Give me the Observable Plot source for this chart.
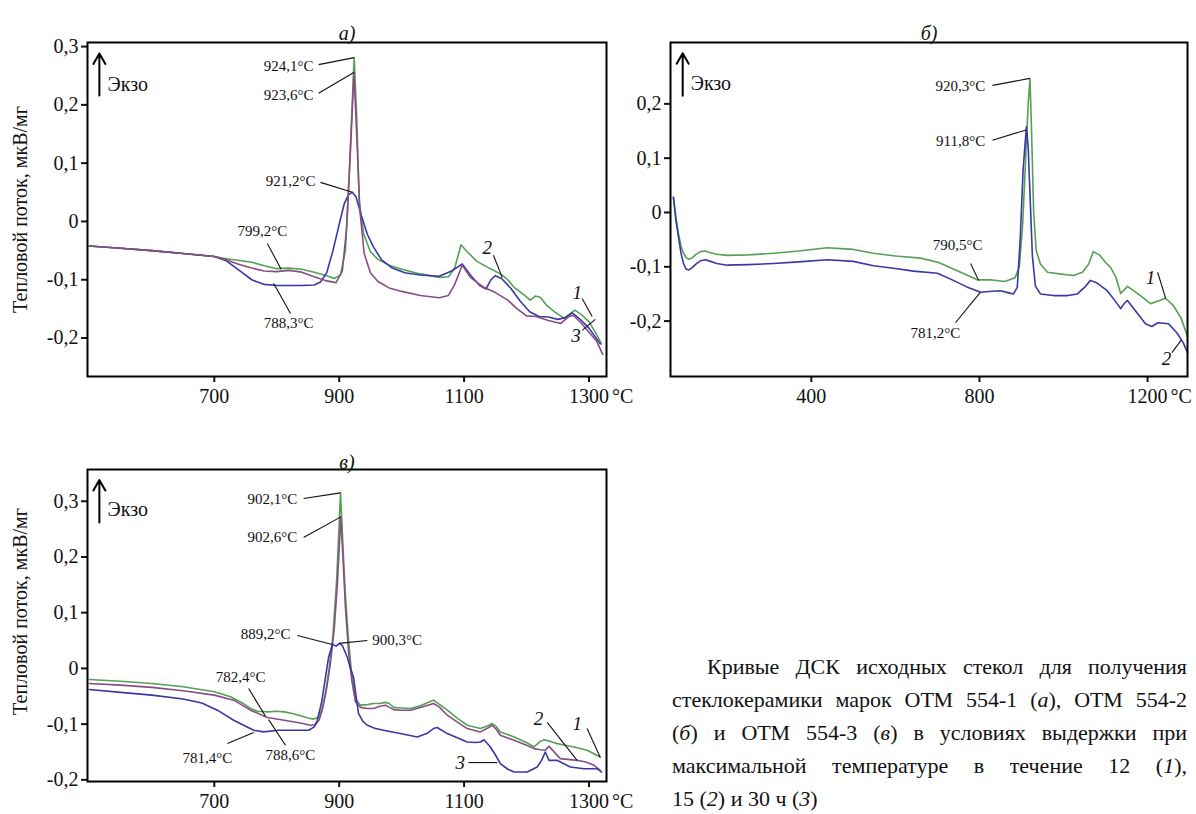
<!DOCTYPE html>
<html><head><meta charset="utf-8">
<script src="https://cdn.jsdelivr.net/npm/d3@7"></script>
<script src="https://cdn.jsdelivr.net/npm/@observablehq/plot@0.6"></script>
<style>
body{margin:0;background:#fff;width:1196px;height:814px;position:relative;overflow:hidden;font-family:"Liberation Serif","DejaVu Serif","Noto Serif",Tinos,serif;color:#111;}
.panel{position:absolute;}
#caption{position:absolute;left:672px;top:650px;width:515px;font-size:22px;line-height:33px;}
#caption .ln{text-align:justify;text-align-last:justify;white-space:nowrap;}
#caption .ln.first{text-indent:35px;}
#caption .ln.last{text-align:left;text-align-last:left;}
</style>
</head><body>
<div id="pa" class="panel" style="left:0;top:0"></div>
<div id="pb" class="panel" style="left:640px;top:0"></div>
<div id="pc" class="panel" style="left:0;top:420px"></div>
<div id="caption">
<div class="ln first">Кривые ДСК исходных стекол для получения</div>
<div class="ln">стеклокерамики марок ОТМ 554-1 (<i>а</i>), ОТМ 554-2</div>
<div class="ln">(<i>б</i>) и ОТМ 554-3 (<i>в</i>) в условиях выдержки при</div>
<div class="ln">максимальной температуре в течение 12 (<i>1</i>),</div>
<div class="ln last">15 (<i>2</i>) и 30 ч (<i>3</i>)</div>
</div>
<script>
// ---------- DATA ----------
const colGreen = "#55a055", colBlue = "#3838a6", colPurple = "#8a4c84";
const yLabel = "Тепловой поток, мкВ/мг";
const exoText = "Экзо";

// Panel а) ОТМ 554-1
const aXTicks = [700, 900, 1100, 1300];
const aYTicks = [-0.2, -0.1, 0, 0.1, 0.2, 0.3];
const a1T = [500,550,600,650,700,720,740,760,780,800,820,840,860,880,892,902,910,916,924,928,932,939,950,962,980,1000,1030,1060,1075,1085,1095,1105,1120,1140,1158,1170,1180,1195,1206,1214,1222,1233,1245,1260,1270,1277,1288,1300,1310,1320];
const a1V = [-0.042,-0.046,-0.050,-0.055,-0.060,-0.064,-0.067,-0.070,-0.076,-0.081,-0.080,-0.082,-0.087,-0.093,-0.098,-0.092,-0.050,0.080,0.281,0.180,0.036,-0.021,-0.052,-0.065,-0.075,-0.082,-0.090,-0.096,-0.095,-0.080,-0.040,-0.052,-0.068,-0.080,-0.090,-0.100,-0.113,-0.125,-0.135,-0.128,-0.130,-0.145,-0.155,-0.166,-0.158,-0.152,-0.160,-0.172,-0.190,-0.210];
const a2T = [500,550,600,650,700,720,740,760,780,800,820,840,860,870,880,890,900,908,915,921,927,935,945,955,968,985,1005,1030,1060,1080,1090,1097,1110,1125,1135,1143,1150,1160,1175,1190,1205,1220,1235,1250,1262,1273,1285,1300,1318];
const a2V = [-0.042,-0.046,-0.050,-0.055,-0.060,-0.068,-0.084,-0.100,-0.108,-0.110,-0.110,-0.110,-0.109,-0.104,-0.088,-0.050,-0.005,0.030,0.046,0.050,0.042,0.012,-0.022,-0.044,-0.066,-0.080,-0.088,-0.092,-0.094,-0.085,-0.078,-0.073,-0.092,-0.110,-0.116,-0.100,-0.093,-0.098,-0.115,-0.137,-0.155,-0.163,-0.164,-0.168,-0.165,-0.157,-0.167,-0.183,-0.210];
const a3T = [500,550,600,650,700,720,740,760,780,800,820,840,860,880,895,905,912,918,923.6,928,933,940,950,962,980,1000,1030,1060,1075,1085,1097,1110,1130,1150,1170,1185,1200,1215,1235,1255,1268,1275,1288,1300,1312,1322];
const a3V = [-0.042,-0.046,-0.050,-0.055,-0.060,-0.066,-0.074,-0.080,-0.085,-0.086,-0.084,-0.087,-0.095,-0.102,-0.105,-0.085,-0.010,0.120,0.256,0.150,0.020,-0.055,-0.088,-0.103,-0.114,-0.120,-0.127,-0.131,-0.127,-0.108,-0.075,-0.096,-0.112,-0.122,-0.135,-0.150,-0.162,-0.163,-0.170,-0.175,-0.163,-0.161,-0.175,-0.190,-0.205,-0.228];
const aLabText = ["924,1°C","923,6°C","921,2°C","799,2°C","788,3°C"];
const aLabT = [859, 859, 862, 777, 819];
const aLabV = [0.266, 0.216, 0.069, -0.017, -0.175];
const aLabAnchor = ["end","end","end","middle","middle"];
const aLeadT1 = [867, 867, 870, 785, 822, 1147, 1289, 1289];
const aLeadV1 = [0.269, 0.220, 0.067, -0.038, -0.158, -0.058, -0.132, -0.187];
const aLeadT2 = [924, 924, 921, 807, 795, 1161, 1305, 1310];
const aLeadV2 = [0.281, 0.256, 0.050, -0.082, -0.106, -0.096, -0.163, -0.168];
const aNumText = ["2","1","3"];
const aNumT = [1137, 1281, 1279];
const aNumV = [-0.046, -0.122, -0.197];
const aExo = {t: 516, v1: 0.216, v2: 0.288, tt: 529, tv: 0.235};

// Panel б) ОТМ 554-2
const bXTicks = [400, 800, 1200];
const bYTicks = [-0.2, -0.1, 0, 0.1, 0.2];
const b1T = [72,78,84,90,96,102,108,116,124,136,148,160,175,200,250,310,370,438,500,548,600,660,703,738,770,795,826,860,885,895,903,910,916,920.3,924,929,935,945,962,990,1024,1045,1060,1071,1085,1100,1112,1125,1136,1145,1152,1165,1183,1207,1225,1243,1262,1280,1295];
const b1V = [0.028,-0.010,-0.039,-0.062,-0.075,-0.083,-0.086,-0.084,-0.078,-0.072,-0.071,-0.074,-0.077,-0.079,-0.078,-0.075,-0.071,-0.065,-0.068,-0.075,-0.080,-0.084,-0.092,-0.104,-0.115,-0.124,-0.124,-0.127,-0.120,-0.100,-0.020,0.100,0.200,0.246,0.150,0.000,-0.070,-0.095,-0.110,-0.113,-0.116,-0.110,-0.095,-0.072,-0.078,-0.092,-0.101,-0.120,-0.149,-0.142,-0.136,-0.143,-0.153,-0.168,-0.163,-0.158,-0.172,-0.195,-0.228];
const b2T = [72,78,84,90,96,102,108,116,124,136,148,160,175,200,250,310,370,438,500,548,600,643,700,738,770,803,830,850,870,881,890,897,904,911.8,916,921,926,933,945,976,1010,1033,1050,1064,1080,1104,1120,1136,1144,1152,1165,1176,1195,1210,1225,1250,1270,1285,1295];
const b2V = [0.028,-0.015,-0.045,-0.075,-0.094,-0.104,-0.106,-0.102,-0.096,-0.089,-0.087,-0.090,-0.094,-0.097,-0.096,-0.094,-0.091,-0.087,-0.090,-0.098,-0.103,-0.108,-0.112,-0.125,-0.137,-0.147,-0.145,-0.144,-0.148,-0.150,-0.138,-0.050,0.080,0.158,0.120,0.020,-0.080,-0.135,-0.150,-0.153,-0.153,-0.150,-0.138,-0.125,-0.130,-0.144,-0.160,-0.177,-0.168,-0.162,-0.175,-0.186,-0.205,-0.210,-0.203,-0.205,-0.222,-0.240,-0.258];
const bLabText = ["920,3°C","911,8°C","790,5°C","781,2°C"];
const bLabT = [814, 814, 748, 695];
const bLabV = [0.232, 0.131, -0.061, -0.223];
const bLabAnchor = ["end","end","middle","middle"];
const bLeadT1 = [831, 831, 779, 743, 1224, 1258];
const bLeadV1 = [0.234, 0.133, -0.094, -0.203, -0.110, -0.258];
const bLeadT2 = [920, 911, 798, 802, 1243, 1280];
const bLeadV2 = [0.247, 0.152, -0.125, -0.147, -0.158, -0.235];
const bNumText = ["1","2"];
const bNumT = [1207, 1245];
const bNumV = [-0.120, -0.270];
const bExo = {t: 94, v1: 0.215, v2: 0.293, tt: 113, tv: 0.238};

// Panel в) ОТМ 554-3
const cXTicks = [700, 900, 1100, 1300];
const cYTicks = [-0.2, -0.1, 0, 0.1, 0.2, 0.3];
const c1T = [500,550,600,650,700,726,745,758,770,785,800,812,825,838,850,859,866,872,878,884,890,896,902.1,906,910,915,920,926,934,945,955,965,974,980,987,1000,1014,1030,1045,1051,1060,1073,1090,1105,1126,1138,1145,1152,1158,1180,1200,1212,1222,1228,1238,1249,1262,1276,1297,1318];
const c1V = [-0.020,-0.023,-0.027,-0.033,-0.042,-0.051,-0.062,-0.072,-0.077,-0.078,-0.077,-0.078,-0.081,-0.085,-0.089,-0.091,-0.088,-0.075,-0.045,0.000,0.060,0.160,0.315,0.220,0.130,0.050,-0.010,-0.055,-0.066,-0.065,-0.063,-0.063,-0.061,-0.063,-0.070,-0.071,-0.072,-0.067,-0.060,-0.057,-0.064,-0.075,-0.090,-0.102,-0.108,-0.103,-0.099,-0.105,-0.114,-0.123,-0.133,-0.141,-0.131,-0.128,-0.131,-0.135,-0.138,-0.141,-0.147,-0.159];
const c2T = [500,550,600,650,700,731,758,785,812,838,854,862,868,874,880,886,892,897,902.6,906,910,915,920,926,934,945,955,965,974,987,1000,1014,1030,1051,1060,1073,1090,1105,1126,1138,1145,1152,1158,1180,1200,1212,1222,1230,1236,1254,1281,1295,1308,1318];
const c2V = [-0.027,-0.030,-0.034,-0.040,-0.048,-0.057,-0.075,-0.088,-0.093,-0.098,-0.102,-0.101,-0.092,-0.070,-0.035,0.010,0.070,0.150,0.272,0.200,0.110,0.030,-0.020,-0.060,-0.070,-0.072,-0.072,-0.068,-0.066,-0.074,-0.075,-0.075,-0.070,-0.063,-0.069,-0.084,-0.097,-0.108,-0.114,-0.107,-0.102,-0.110,-0.120,-0.129,-0.138,-0.144,-0.146,-0.147,-0.140,-0.162,-0.165,-0.168,-0.174,-0.183];
const c3T = [500,550,600,650,680,705,731,763,779,803,838,851,860,865,872,878,883,889.2,895,900.3,905,913,918,923,927,931,938,945,958,971,985,998,1025,1040,1051,1057,1073,1090,1105,1118,1126,1132,1142,1150,1158,1170,1180,1201,1217,1224,1230,1236,1249,1270,1292,1313,1320];
const c3V = [-0.038,-0.043,-0.048,-0.055,-0.062,-0.075,-0.093,-0.111,-0.114,-0.111,-0.111,-0.111,-0.105,-0.093,-0.060,-0.016,0.020,0.043,0.040,0.045,0.041,0.020,0.000,-0.016,-0.050,-0.081,-0.095,-0.102,-0.108,-0.111,-0.114,-0.117,-0.123,-0.117,-0.108,-0.106,-0.117,-0.125,-0.132,-0.133,-0.132,-0.128,-0.141,-0.155,-0.171,-0.181,-0.186,-0.186,-0.177,-0.165,-0.150,-0.165,-0.165,-0.177,-0.180,-0.180,-0.186];
const cLabText = ["902,1°C","902,6°C","889,2°C","900,3°C","782,4°C","788,6°C","781,4°C"];
const cLabT = [833, 833, 822, 953, 742, 822, 689];
const cLabV = [0.303, 0.235, 0.061, 0.050, -0.016, -0.156, -0.162];
const cLabAnchor = ["end","end","end","start","middle","middle","middle"];
const cLeadT1 = [843, 843, 833, 945, 755, 814, 721, 1233, 1297, 1107];
const cLeadV1 = [0.305, 0.235, 0.059, 0.050, -0.036, -0.138, -0.135, -0.097, -0.108, -0.169];
const cLeadT2 = [902, 902.6, 889, 900, 782, 787, 763, 1281, 1318, 1153];
const cLeadV2 = [0.315, 0.272, 0.043, 0.045, -0.086, -0.092, -0.115, -0.165, -0.160, -0.169];
const cNumText = ["2","1","3"];
const cNumT = [1219, 1281, 1094];
const cNumV = [-0.090, -0.099, -0.169];
const cExo = {t: 516, v1: 0.262, v2: 0.338, tt: 529, tv: 0.285};

// ---------- DRAW ----------
const FONT = "'Liberation Serif', 'DejaVu Serif', 'Noto Serif', Tinos, serif";
const zipTV = (T, V) => T.map((t, i) => ({T: t, v: V[i]}));
const fmtY = d => d === 0 ? "0" : d.toFixed(1).replace(".", ",");

function panel(o) {
  const labels = o.labText.map((t, i) => ({t, T: o.labT[i], v: o.labV[i], a: o.labAnchor[i]}));
  const leads = o.leadT1.map((t, i) => ({x1: t, y1: o.leadV1[i], x2: o.leadT2[i], y2: o.leadV2[i]}));
  const nums = o.numText.map((t, i) => ({t, T: o.numT[i], v: o.numV[i]}));
  const marks = [];
  o.series.forEach(s => marks.push(Plot.line(zipTV(s.T, s.V), {x: "T", y: "v", stroke: s.color, strokeWidth: 1.6})));
  marks.push(Plot.link(leads, {x1: "x1", y1: "y1", x2: "x2", y2: "y2", stroke: "#111", strokeWidth: 1.1}));
  for (const anchor of ["start", "middle", "end"]) {
    const sub = labels.filter(d => d.a === anchor);
    if (sub.length) marks.push(Plot.text(sub, {x: "T", y: "v", text: "t", textAnchor: anchor, fontSize: 15, fill: "#111"}));
  }
  marks.push(Plot.text(nums, {x: "T", y: "v", text: "t", fontStyle: "italic", fontSize: 19, fill: "#111"}));
  marks.push(Plot.arrow([o.exo], {x1: "t", y1: "v1", x2: "t", y2: "v2", stroke: "#000", strokeWidth: 2, headLength: 9}));
  marks.push(Plot.text([o.exo], {x: "tt", y: "tv", text: () => exoText, textAnchor: "start", fontSize: 20, fill: "#111"}));
  marks.push(Plot.axisX({ticks: o.xTicks, tickSize: 6, tickPadding: 6, strokeWidth: 2, tickFormat: d => String(d), label: null, fill: "#111"}));
  marks.push(Plot.text([o.xTicks[o.xTicks.length - 1]], {x: d => d, frameAnchor: "bottom", dy: 12, dx: 23, text: () => "°C", textAnchor: "start", lineAnchor: "top", fontSize: 20, fill: "#111"}));
  marks.push(Plot.axisY({ticks: o.yTicks, tickSize: 6, tickPadding: 3, strokeWidth: 2, tickFormat: fmtY, label: null, fill: "#111"}));
  marks.push(Plot.frame({stroke: "#000", strokeWidth: 2}));
  marks.push(Plot.text([o.title], {frameAnchor: "top", dy: o.titleDy, textAnchor: "middle", fontStyle: "italic", fontSize: 20, fill: "#111"}));
  if (o.ylabel) marks.push(Plot.text([o.ylabel], {frameAnchor: "left", dx: -67, dy: o.ylabelDy || 0, rotate: -90, textAnchor: "middle", lineAnchor: "middle", fontSize: 20, fill: "#111"}));
  return Plot.plot({
    width: o.width, height: o.height,
    marginLeft: o.ml, marginRight: o.mr, marginTop: o.mt, marginBottom: o.mb,
    x: {domain: o.xDomain}, y: {domain: o.yDomain},
    style: {fontFamily: FONT, fontSize: "20px", background: "transparent", overflow: "visible"},
    marks
  });
}

document.getElementById("pa").append(panel({
  width: 640, height: 420, ml: 87, mr: 34, mt: 42, mb: 44,
  xDomain: [497, 1328], yDomain: [-0.266, 0.307], xTicks: aXTicks, yTicks: aYTicks,
  series: [{T: a1T, V: a1V, color: colGreen}, {T: a2T, V: a2V, color: colBlue}, {T: a3T, V: a3V, color: colPurple}],
  labText: aLabText, labT: aLabT, labV: aLabV, labAnchor: aLabAnchor,
  leadT1: aLeadT1, leadV1: aLeadV1, leadT2: aLeadT2, leadV2: aLeadV2,
  numText: aNumText, numT: aNumT, numV: aNumV, exo: aExo,
  title: "а)", titleDy: -17, ylabel: yLabel
}));
document.getElementById("pb").append(panel({
  width: 556, height: 420, ml: 30, mr: 9, mt: 42, mb: 44,
  xDomain: [65, 1295], yDomain: [-0.302, 0.313], xTicks: bXTicks, yTicks: bYTicks,
  series: [{T: b1T, V: b1V, color: colGreen}, {T: b2T, V: b2V, color: colBlue}],
  labText: bLabText, labT: bLabT, labV: bLabV, labAnchor: bLabAnchor,
  leadT1: bLeadT1, leadV1: bLeadV1, leadT2: bLeadT2, leadV2: bLeadV2,
  numText: bNumText, numT: bNumT, numV: bNumV, exo: bExo,
  title: "б)", titleDy: -17, ylabel: null
}));
document.getElementById("pc").append(panel({
  width: 640, height: 394, ml: 87, mr: 34, mt: 49, mb: 33,
  xDomain: [497, 1328], yDomain: [-0.203, 0.357], xTicks: cXTicks, yTicks: cYTicks,
  series: [{T: c1T, V: c1V, color: colGreen}, {T: c2T, V: c2V, color: colPurple}, {T: c3T, V: c3V, color: colBlue}],
  labText: cLabText, labT: cLabT, labV: cLabV, labAnchor: cLabAnchor,
  leadT1: cLeadT1, leadV1: cLeadV1, leadT2: cLeadT2, leadV2: cLeadV2,
  numText: cNumText, numT: cNumT, numV: cNumV, exo: cExo,
  title: "в)", titleDy: -15, ylabel: yLabel, ylabelDy: -14
}));
</script>
</body></html>
